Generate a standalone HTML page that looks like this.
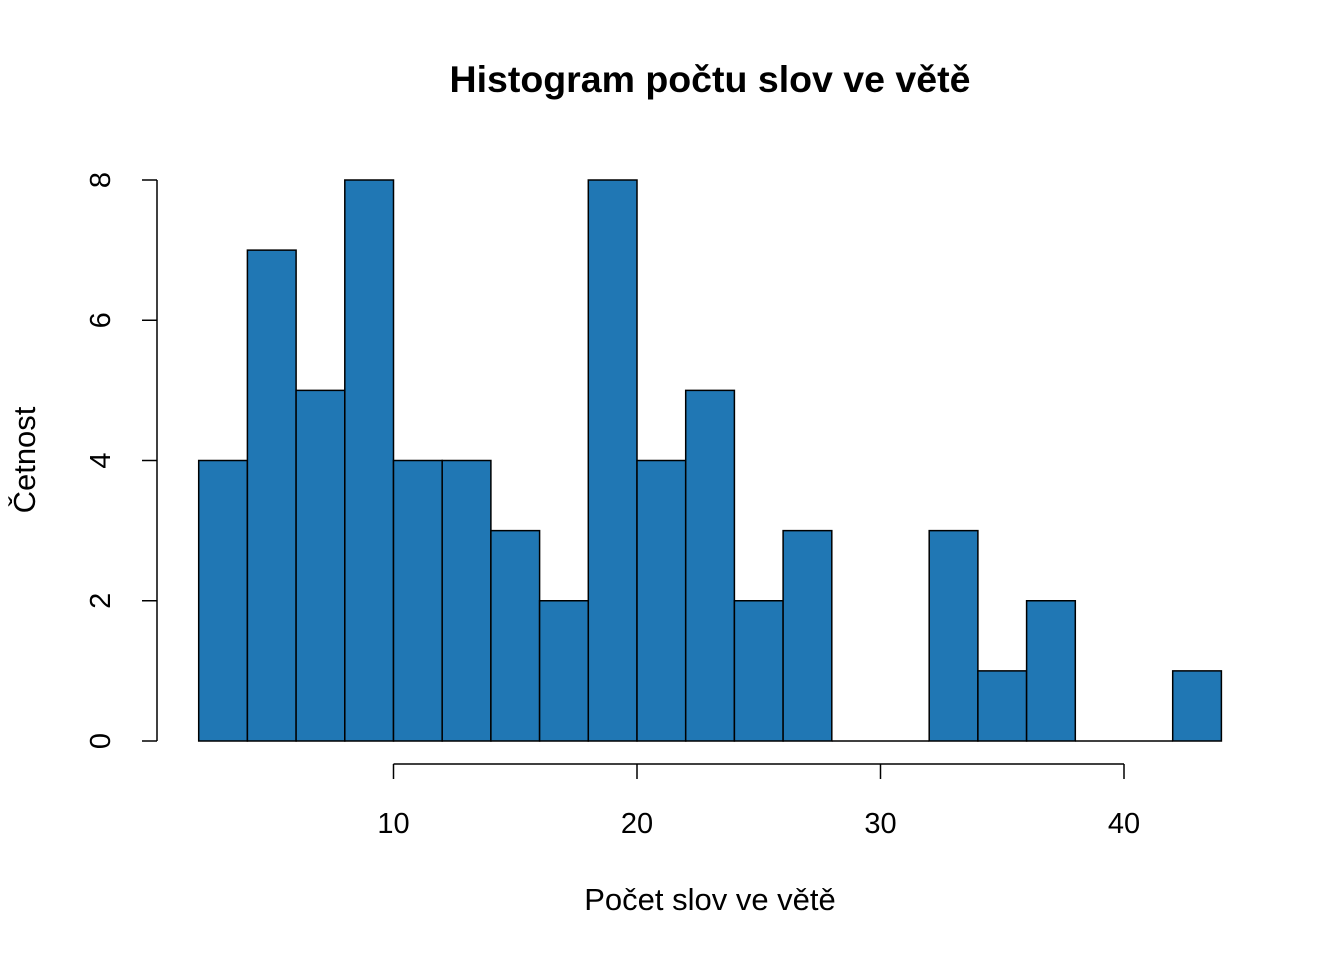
<!DOCTYPE html>
<html><head><meta charset="utf-8"><style>
html,body{margin:0;padding:0;background:#fff;}
svg{display:block;font-family:"Liberation Sans",sans-serif;}
</style></head><body>
<svg id="chart" width="1344" height="960" viewBox="0 0 1344 960">
<text x="710" y="92" text-anchor="middle" font-size="37.5" font-weight="bold">Histogram počtu slov ve větě</text>
<text x="710" y="910" text-anchor="middle" font-size="31">Počet slov ve větě</text>
<text transform="translate(35,460) rotate(-90)" text-anchor="middle" font-size="31">Četnost</text>
<g id="bars"></g><g id="axes"></g>
</svg>
<script>
const binStarts=[2,4,6,8,10,12,14,16,18,20,22,24,26,28,30,32,34,36,38,40,42];
const counts=[4,7,5,8,4,4,3,2,8,4,5,2,3,0,0,3,1,2,0,0,1];
const binWidth=2;
const xTicks=[10,20,30,40];
const yTicks=[0,2,4,6,8];
const NS="http://www.w3.org/2000/svg";
const xs=v=>393.5+(v-10)*24.35;
const ys=v=>741-v*70.125;
function mk(tag,attrs,parent){const e=document.createElementNS(NS,tag);for(const k in attrs)e.setAttribute(k,attrs[k]);parent.appendChild(e);return e;}
const bars=document.getElementById('bars'),axes=document.getElementById('axes');
binStarts.forEach((b,i)=>{
  let r;
  if(counts[i]===0){
    r=mk('line',{x1:xs(b),x2:xs(b+binWidth),y1:ys(0),y2:ys(0),stroke:'#000','stroke-width':1.5},bars);
  } else {
    r=mk('rect',{x:xs(b),y:ys(counts[i]),width:xs(b+binWidth)-xs(b),height:ys(0)-ys(counts[i]),fill:'#2077b4',stroke:'#000','stroke-width':1.5},bars);
  }
  
  
});
const xl=mk('line',{x1:xs(xTicks[0]),x2:xs(xTicks[xTicks.length-1]),y1:764,y2:764,stroke:'#000','stroke-width':1.5},axes);


xTicks.forEach(t=>{
  const l=mk('line',{x1:xs(t),x2:xs(t),y1:764,y2:779,stroke:'#000','stroke-width':1.5},axes);
  
  
  const tx=mk('text',{x:xs(t),y:833,'text-anchor':'middle','font-size':29},axes);
  tx.textContent=t;
  
  
});
const yl=mk('line',{x1:157,x2:157,y1:ys(yTicks[0]),y2:ys(yTicks[yTicks.length-1]),stroke:'#000','stroke-width':1.5},axes);


yTicks.forEach(t=>{
  const l=mk('line',{x1:142,x2:157,y1:ys(t),y2:ys(t),stroke:'#000','stroke-width':1.5},axes);
  
  
  const tx=mk('text',{transform:'translate(110,'+ys(t)+') rotate(-90)','text-anchor':'middle','font-size':29},axes);
  tx.textContent=t;
  
  
});
</script>
</body></html>
